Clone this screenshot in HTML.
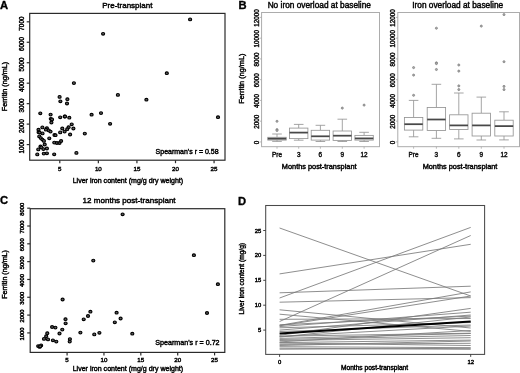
<!DOCTYPE html>
<html><head><meta charset="utf-8"><style>
html,body{margin:0;padding:0;background:#fff;}
svg{display:block;font-family:"Liberation Sans", sans-serif;filter:blur(0.3px);}
</style></head><body>
<svg width="520" height="373" viewBox="0 0 520 373">
<rect width="520" height="373" fill="#fff"/>
<text x="0.00" y="8.70" font-size="11.2" text-anchor="start" font-weight="bold" fill="#000" stroke="#000" stroke-width="0.35">A</text>
<text x="127.35" y="7.80" font-size="8.0" text-anchor="middle" font-weight="normal" fill="#000" stroke="#000" stroke-width="0.42">Pre-transplant</text>
<rect x="29.70" y="13.40" width="195.30" height="146.80" stroke="#2b2b2b" stroke-width="1.2" fill="none"/>
<line x1="26.70" y1="144.57" x2="29.70" y2="144.57" stroke="#2b2b2b" stroke-width="1.2"/>
<text x="24.30" y="146.37" font-size="6.3" text-anchor="middle" font-weight="normal" fill="#000" stroke="#000" stroke-width="0.42" transform="rotate(-90 24.30 146.37)">1000</text>
<line x1="26.70" y1="124.11" x2="29.70" y2="124.11" stroke="#2b2b2b" stroke-width="1.2"/>
<text x="24.30" y="125.91" font-size="6.3" text-anchor="middle" font-weight="normal" fill="#000" stroke="#000" stroke-width="0.42" transform="rotate(-90 24.30 125.91)">2000</text>
<line x1="26.70" y1="103.65" x2="29.70" y2="103.65" stroke="#2b2b2b" stroke-width="1.2"/>
<text x="24.30" y="105.45" font-size="6.3" text-anchor="middle" font-weight="normal" fill="#000" stroke="#000" stroke-width="0.42" transform="rotate(-90 24.30 105.45)">3000</text>
<line x1="26.70" y1="83.19" x2="29.70" y2="83.19" stroke="#2b2b2b" stroke-width="1.2"/>
<text x="24.30" y="84.99" font-size="6.3" text-anchor="middle" font-weight="normal" fill="#000" stroke="#000" stroke-width="0.42" transform="rotate(-90 24.30 84.99)">4000</text>
<line x1="26.70" y1="62.73" x2="29.70" y2="62.73" stroke="#2b2b2b" stroke-width="1.2"/>
<text x="24.30" y="64.53" font-size="6.3" text-anchor="middle" font-weight="normal" fill="#000" stroke="#000" stroke-width="0.42" transform="rotate(-90 24.30 64.53)">5000</text>
<line x1="26.70" y1="42.27" x2="29.70" y2="42.27" stroke="#2b2b2b" stroke-width="1.2"/>
<text x="24.30" y="44.07" font-size="6.3" text-anchor="middle" font-weight="normal" fill="#000" stroke="#000" stroke-width="0.42" transform="rotate(-90 24.30 44.07)">6000</text>
<line x1="26.70" y1="21.81" x2="29.70" y2="21.81" stroke="#2b2b2b" stroke-width="1.2"/>
<text x="24.30" y="23.61" font-size="6.3" text-anchor="middle" font-weight="normal" fill="#000" stroke="#000" stroke-width="0.42" transform="rotate(-90 24.30 23.61)">7000</text>
<line x1="59.78" y1="160.20" x2="59.78" y2="163.20" stroke="#2b2b2b" stroke-width="1.2"/>
<text x="59.78" y="171.20" font-size="6.2" text-anchor="middle" font-weight="normal" fill="#000" stroke="#000" stroke-width="0.42">5</text>
<line x1="98.35" y1="160.20" x2="98.35" y2="163.20" stroke="#2b2b2b" stroke-width="1.2"/>
<text x="98.35" y="171.20" font-size="6.2" text-anchor="middle" font-weight="normal" fill="#000" stroke="#000" stroke-width="0.42">10</text>
<line x1="136.92" y1="160.20" x2="136.92" y2="163.20" stroke="#2b2b2b" stroke-width="1.2"/>
<text x="136.92" y="171.20" font-size="6.2" text-anchor="middle" font-weight="normal" fill="#000" stroke="#000" stroke-width="0.42">15</text>
<line x1="175.50" y1="160.20" x2="175.50" y2="163.20" stroke="#2b2b2b" stroke-width="1.2"/>
<text x="175.50" y="171.20" font-size="6.2" text-anchor="middle" font-weight="normal" fill="#000" stroke="#000" stroke-width="0.42">20</text>
<line x1="214.07" y1="160.20" x2="214.07" y2="163.20" stroke="#2b2b2b" stroke-width="1.2"/>
<text x="214.07" y="171.20" font-size="6.2" text-anchor="middle" font-weight="normal" fill="#000" stroke="#000" stroke-width="0.42">25</text>
<text x="127.90" y="183.00" font-size="7.05" text-anchor="middle" font-weight="normal" fill="#000" stroke="#000" stroke-width="0.42">Liver iron content (mg/g dry weight)</text>
<text x="7.30" y="86.50" font-size="7.25" text-anchor="middle" font-weight="normal" fill="#000" stroke="#000" stroke-width="0.42" transform="rotate(-90 7.30 86.50)">Ferritin (ng/mL)</text>
<text x="218.60" y="154.20" font-size="7.0" text-anchor="end" font-weight="normal" fill="#000" stroke="#000" stroke-width="0.42">Spearman's r = 0.58</text>
<ellipse cx="59.60" cy="96.90" rx="1.55" ry="1.35" stroke="#000" stroke-width="1.1" fill="#606060"/>
<ellipse cx="60.40" cy="101.30" rx="1.55" ry="1.35" stroke="#000" stroke-width="1.1" fill="#606060"/>
<ellipse cx="67.40" cy="99.20" rx="1.55" ry="1.35" stroke="#000" stroke-width="1.1" fill="#606060"/>
<ellipse cx="67.00" cy="103.50" rx="1.55" ry="1.35" stroke="#000" stroke-width="1.1" fill="#606060"/>
<ellipse cx="40.30" cy="113.30" rx="1.55" ry="1.35" stroke="#000" stroke-width="1.1" fill="#606060"/>
<ellipse cx="50.60" cy="114.60" rx="1.55" ry="1.35" stroke="#000" stroke-width="1.1" fill="#606060"/>
<ellipse cx="50.80" cy="118.80" rx="1.55" ry="1.35" stroke="#000" stroke-width="1.1" fill="#606060"/>
<ellipse cx="52.00" cy="119.40" rx="1.55" ry="1.35" stroke="#000" stroke-width="1.1" fill="#606060"/>
<ellipse cx="51.40" cy="122.50" rx="1.55" ry="1.35" stroke="#000" stroke-width="1.1" fill="#606060"/>
<ellipse cx="60.20" cy="117.30" rx="1.55" ry="1.35" stroke="#000" stroke-width="1.1" fill="#606060"/>
<ellipse cx="64.70" cy="116.50" rx="1.55" ry="1.35" stroke="#000" stroke-width="1.1" fill="#606060"/>
<ellipse cx="69.30" cy="117.70" rx="1.55" ry="1.35" stroke="#000" stroke-width="1.1" fill="#606060"/>
<ellipse cx="71.70" cy="124.30" rx="1.55" ry="1.35" stroke="#000" stroke-width="1.1" fill="#606060"/>
<ellipse cx="42.40" cy="127.40" rx="1.55" ry="1.35" stroke="#000" stroke-width="1.1" fill="#606060"/>
<ellipse cx="38.50" cy="129.70" rx="1.55" ry="1.35" stroke="#000" stroke-width="1.1" fill="#606060"/>
<ellipse cx="38.60" cy="132.20" rx="1.55" ry="1.35" stroke="#000" stroke-width="1.1" fill="#606060"/>
<ellipse cx="46.90" cy="128.20" rx="1.55" ry="1.35" stroke="#000" stroke-width="1.1" fill="#606060"/>
<ellipse cx="45.90" cy="129.70" rx="1.55" ry="1.35" stroke="#000" stroke-width="1.1" fill="#606060"/>
<ellipse cx="48.80" cy="130.40" rx="1.55" ry="1.35" stroke="#000" stroke-width="1.1" fill="#606060"/>
<ellipse cx="50.50" cy="131.60" rx="1.55" ry="1.35" stroke="#000" stroke-width="1.1" fill="#606060"/>
<ellipse cx="42.50" cy="133.40" rx="1.55" ry="1.35" stroke="#000" stroke-width="1.1" fill="#606060"/>
<ellipse cx="39.50" cy="132.50" rx="1.55" ry="1.35" stroke="#000" stroke-width="1.1" fill="#606060"/>
<ellipse cx="62.30" cy="128.50" rx="1.55" ry="1.35" stroke="#000" stroke-width="1.1" fill="#606060"/>
<ellipse cx="68.60" cy="127.20" rx="1.55" ry="1.35" stroke="#000" stroke-width="1.1" fill="#606060"/>
<ellipse cx="67.20" cy="129.20" rx="1.55" ry="1.35" stroke="#000" stroke-width="1.1" fill="#606060"/>
<ellipse cx="73.40" cy="128.50" rx="1.55" ry="1.35" stroke="#000" stroke-width="1.1" fill="#606060"/>
<ellipse cx="64.60" cy="131.60" rx="1.55" ry="1.35" stroke="#000" stroke-width="1.1" fill="#606060"/>
<ellipse cx="60.20" cy="132.40" rx="1.55" ry="1.35" stroke="#000" stroke-width="1.1" fill="#606060"/>
<ellipse cx="54.50" cy="135.00" rx="1.55" ry="1.35" stroke="#000" stroke-width="1.1" fill="#606060"/>
<ellipse cx="55.50" cy="135.20" rx="1.55" ry="1.35" stroke="#000" stroke-width="1.1" fill="#606060"/>
<ellipse cx="70.10" cy="134.50" rx="1.55" ry="1.35" stroke="#000" stroke-width="1.1" fill="#606060"/>
<ellipse cx="49.30" cy="138.30" rx="1.55" ry="1.35" stroke="#000" stroke-width="1.1" fill="#606060"/>
<ellipse cx="39.30" cy="136.40" rx="1.55" ry="1.35" stroke="#000" stroke-width="1.1" fill="#606060"/>
<ellipse cx="40.80" cy="138.10" rx="1.55" ry="1.35" stroke="#000" stroke-width="1.1" fill="#606060"/>
<ellipse cx="42.40" cy="139.60" rx="1.55" ry="1.35" stroke="#000" stroke-width="1.1" fill="#606060"/>
<ellipse cx="43.90" cy="140.90" rx="1.55" ry="1.35" stroke="#000" stroke-width="1.1" fill="#606060"/>
<ellipse cx="54.30" cy="142.60" rx="1.55" ry="1.35" stroke="#000" stroke-width="1.1" fill="#606060"/>
<ellipse cx="56.90" cy="143.00" rx="1.55" ry="1.35" stroke="#000" stroke-width="1.1" fill="#606060"/>
<ellipse cx="59.50" cy="143.00" rx="1.55" ry="1.35" stroke="#000" stroke-width="1.1" fill="#606060"/>
<ellipse cx="61.10" cy="141.00" rx="1.55" ry="1.35" stroke="#000" stroke-width="1.1" fill="#606060"/>
<ellipse cx="44.70" cy="144.50" rx="1.55" ry="1.35" stroke="#000" stroke-width="1.1" fill="#606060"/>
<ellipse cx="40.50" cy="146.50" rx="1.55" ry="1.35" stroke="#000" stroke-width="1.1" fill="#606060"/>
<ellipse cx="41.40" cy="147.40" rx="1.55" ry="1.35" stroke="#000" stroke-width="1.1" fill="#606060"/>
<ellipse cx="38.30" cy="149.40" rx="1.55" ry="1.35" stroke="#000" stroke-width="1.1" fill="#606060"/>
<ellipse cx="43.40" cy="149.10" rx="1.55" ry="1.35" stroke="#000" stroke-width="1.1" fill="#606060"/>
<ellipse cx="46.90" cy="148.50" rx="1.55" ry="1.35" stroke="#000" stroke-width="1.1" fill="#606060"/>
<ellipse cx="37.30" cy="154.40" rx="1.55" ry="1.35" stroke="#000" stroke-width="1.1" fill="#606060"/>
<ellipse cx="43.80" cy="153.60" rx="1.55" ry="1.35" stroke="#000" stroke-width="1.1" fill="#606060"/>
<ellipse cx="46.90" cy="153.30" rx="1.55" ry="1.35" stroke="#000" stroke-width="1.1" fill="#606060"/>
<ellipse cx="54.20" cy="154.30" rx="1.55" ry="1.35" stroke="#000" stroke-width="1.1" fill="#606060"/>
<ellipse cx="76.40" cy="152.90" rx="1.55" ry="1.35" stroke="#000" stroke-width="1.1" fill="#606060"/>
<ellipse cx="73.90" cy="83.10" rx="1.55" ry="1.35" stroke="#000" stroke-width="1.1" fill="#606060"/>
<ellipse cx="117.90" cy="94.90" rx="1.55" ry="1.35" stroke="#000" stroke-width="1.1" fill="#606060"/>
<ellipse cx="91.60" cy="114.70" rx="1.55" ry="1.35" stroke="#000" stroke-width="1.1" fill="#606060"/>
<ellipse cx="101.00" cy="113.10" rx="1.55" ry="1.35" stroke="#000" stroke-width="1.1" fill="#606060"/>
<ellipse cx="65.00" cy="116.50" rx="1.55" ry="1.35" stroke="#000" stroke-width="1.1" fill="#606060"/>
<ellipse cx="110.10" cy="123.80" rx="1.55" ry="1.35" stroke="#000" stroke-width="1.1" fill="#606060"/>
<ellipse cx="84.80" cy="133.60" rx="1.55" ry="1.35" stroke="#000" stroke-width="1.1" fill="#606060"/>
<ellipse cx="166.80" cy="73.20" rx="1.55" ry="1.35" stroke="#000" stroke-width="1.1" fill="#606060"/>
<ellipse cx="146.40" cy="99.70" rx="1.55" ry="1.35" stroke="#000" stroke-width="1.1" fill="#606060"/>
<ellipse cx="218.00" cy="117.20" rx="1.55" ry="1.35" stroke="#000" stroke-width="1.1" fill="#606060"/>
<ellipse cx="190.10" cy="19.40" rx="1.55" ry="1.35" stroke="#000" stroke-width="1.1" fill="#606060"/>
<ellipse cx="103.10" cy="33.80" rx="1.55" ry="1.35" stroke="#000" stroke-width="1.1" fill="#606060"/>
<text x="0.00" y="204.20" font-size="11.2" text-anchor="start" font-weight="bold" fill="#000" stroke="#000" stroke-width="0.35">C</text>
<text x="129.10" y="203.40" font-size="8.05" text-anchor="middle" font-weight="normal" fill="#000" stroke="#000" stroke-width="0.42">12 months post-transplant</text>
<rect x="30.20" y="208.70" width="194.60" height="143.70" stroke="#2b2b2b" stroke-width="1.2" fill="none"/>
<line x1="27.20" y1="332.91" x2="30.20" y2="332.91" stroke="#2b2b2b" stroke-width="1.2"/>
<text x="23.70" y="333.91" font-size="5.85" text-anchor="middle" font-weight="normal" fill="#000" stroke="#000" stroke-width="0.42" transform="rotate(-90 23.70 333.91)">1000</text>
<line x1="27.20" y1="315.09" x2="30.20" y2="315.09" stroke="#2b2b2b" stroke-width="1.2"/>
<text x="23.70" y="316.09" font-size="5.85" text-anchor="middle" font-weight="normal" fill="#000" stroke="#000" stroke-width="0.42" transform="rotate(-90 23.70 316.09)">2000</text>
<line x1="27.20" y1="297.27" x2="30.20" y2="297.27" stroke="#2b2b2b" stroke-width="1.2"/>
<text x="23.70" y="298.27" font-size="5.85" text-anchor="middle" font-weight="normal" fill="#000" stroke="#000" stroke-width="0.42" transform="rotate(-90 23.70 298.27)">3000</text>
<line x1="27.20" y1="279.46" x2="30.20" y2="279.46" stroke="#2b2b2b" stroke-width="1.2"/>
<text x="23.70" y="280.46" font-size="5.85" text-anchor="middle" font-weight="normal" fill="#000" stroke="#000" stroke-width="0.42" transform="rotate(-90 23.70 280.46)">4000</text>
<line x1="27.20" y1="261.64" x2="30.20" y2="261.64" stroke="#2b2b2b" stroke-width="1.2"/>
<text x="23.70" y="262.64" font-size="5.85" text-anchor="middle" font-weight="normal" fill="#000" stroke="#000" stroke-width="0.42" transform="rotate(-90 23.70 262.64)">5000</text>
<line x1="27.20" y1="243.82" x2="30.20" y2="243.82" stroke="#2b2b2b" stroke-width="1.2"/>
<text x="23.70" y="244.82" font-size="5.85" text-anchor="middle" font-weight="normal" fill="#000" stroke="#000" stroke-width="0.42" transform="rotate(-90 23.70 244.82)">6000</text>
<line x1="27.20" y1="226.01" x2="30.20" y2="226.01" stroke="#2b2b2b" stroke-width="1.2"/>
<text x="23.70" y="227.01" font-size="5.85" text-anchor="middle" font-weight="normal" fill="#000" stroke="#000" stroke-width="0.42" transform="rotate(-90 23.70 227.01)">7000</text>
<line x1="27.20" y1="208.19" x2="30.20" y2="208.19" stroke="#2b2b2b" stroke-width="1.2"/>
<text x="23.70" y="209.19" font-size="5.85" text-anchor="middle" font-weight="normal" fill="#000" stroke="#000" stroke-width="0.42" transform="rotate(-90 23.70 209.19)">8000</text>
<line x1="67.08" y1="352.40" x2="67.08" y2="355.40" stroke="#2b2b2b" stroke-width="1.2"/>
<text x="67.08" y="361.80" font-size="6.2" text-anchor="middle" font-weight="normal" fill="#000" stroke="#000" stroke-width="0.42">5</text>
<line x1="103.95" y1="352.40" x2="103.95" y2="355.40" stroke="#2b2b2b" stroke-width="1.2"/>
<text x="103.95" y="361.80" font-size="6.2" text-anchor="middle" font-weight="normal" fill="#000" stroke="#000" stroke-width="0.42">10</text>
<line x1="140.82" y1="352.40" x2="140.82" y2="355.40" stroke="#2b2b2b" stroke-width="1.2"/>
<text x="140.82" y="361.80" font-size="6.2" text-anchor="middle" font-weight="normal" fill="#000" stroke="#000" stroke-width="0.42">15</text>
<line x1="177.70" y1="352.40" x2="177.70" y2="355.40" stroke="#2b2b2b" stroke-width="1.2"/>
<text x="177.70" y="361.80" font-size="6.2" text-anchor="middle" font-weight="normal" fill="#000" stroke="#000" stroke-width="0.42">20</text>
<line x1="214.57" y1="352.40" x2="214.57" y2="355.40" stroke="#2b2b2b" stroke-width="1.2"/>
<text x="214.57" y="361.80" font-size="6.2" text-anchor="middle" font-weight="normal" fill="#000" stroke="#000" stroke-width="0.42">25</text>
<text x="127.90" y="371.30" font-size="7.05" text-anchor="middle" font-weight="normal" fill="#000" stroke="#000" stroke-width="0.42">Liver iron content (mg/g dry weight)</text>
<text x="7.30" y="274.45" font-size="7.15" text-anchor="middle" font-weight="normal" fill="#000" stroke="#000" stroke-width="0.42" transform="rotate(-90 7.30 274.45)">Ferritin (ng/mL)</text>
<text x="219.60" y="345.40" font-size="7.15" text-anchor="end" font-weight="normal" fill="#000" stroke="#000" stroke-width="0.42">Spearman's r = 0.72</text>
<ellipse cx="62.60" cy="299.50" rx="1.55" ry="1.35" stroke="#000" stroke-width="1.1" fill="#606060"/>
<ellipse cx="65.50" cy="319.20" rx="1.55" ry="1.35" stroke="#000" stroke-width="1.1" fill="#606060"/>
<ellipse cx="65.60" cy="323.30" rx="1.55" ry="1.35" stroke="#000" stroke-width="1.1" fill="#606060"/>
<ellipse cx="52.10" cy="327.00" rx="1.55" ry="1.35" stroke="#000" stroke-width="1.1" fill="#606060"/>
<ellipse cx="55.40" cy="327.60" rx="1.55" ry="1.35" stroke="#000" stroke-width="1.1" fill="#606060"/>
<ellipse cx="62.30" cy="329.60" rx="1.55" ry="1.35" stroke="#000" stroke-width="1.1" fill="#606060"/>
<ellipse cx="59.50" cy="333.50" rx="1.55" ry="1.35" stroke="#000" stroke-width="1.1" fill="#606060"/>
<ellipse cx="47.30" cy="333.20" rx="1.55" ry="1.35" stroke="#000" stroke-width="1.1" fill="#606060"/>
<ellipse cx="46.20" cy="336.20" rx="1.55" ry="1.35" stroke="#000" stroke-width="1.1" fill="#606060"/>
<ellipse cx="44.00" cy="338.90" rx="1.55" ry="1.35" stroke="#000" stroke-width="1.1" fill="#606060"/>
<ellipse cx="48.00" cy="339.40" rx="1.55" ry="1.35" stroke="#000" stroke-width="1.1" fill="#606060"/>
<ellipse cx="52.90" cy="340.30" rx="1.55" ry="1.35" stroke="#000" stroke-width="1.1" fill="#606060"/>
<ellipse cx="56.30" cy="341.60" rx="1.55" ry="1.35" stroke="#000" stroke-width="1.1" fill="#606060"/>
<ellipse cx="69.90" cy="339.10" rx="1.55" ry="1.35" stroke="#000" stroke-width="1.1" fill="#606060"/>
<ellipse cx="69.70" cy="341.60" rx="1.55" ry="1.35" stroke="#000" stroke-width="1.1" fill="#606060"/>
<ellipse cx="80.40" cy="332.60" rx="1.55" ry="1.35" stroke="#000" stroke-width="1.1" fill="#606060"/>
<ellipse cx="83.70" cy="319.30" rx="1.55" ry="1.35" stroke="#000" stroke-width="1.1" fill="#606060"/>
<ellipse cx="88.00" cy="316.00" rx="1.55" ry="1.35" stroke="#000" stroke-width="1.1" fill="#606060"/>
<ellipse cx="90.40" cy="311.70" rx="1.55" ry="1.35" stroke="#000" stroke-width="1.1" fill="#606060"/>
<ellipse cx="94.30" cy="334.40" rx="1.55" ry="1.35" stroke="#000" stroke-width="1.1" fill="#606060"/>
<ellipse cx="99.40" cy="332.80" rx="1.55" ry="1.35" stroke="#000" stroke-width="1.1" fill="#606060"/>
<ellipse cx="114.80" cy="322.30" rx="1.55" ry="1.35" stroke="#000" stroke-width="1.1" fill="#606060"/>
<ellipse cx="116.60" cy="312.70" rx="1.55" ry="1.35" stroke="#000" stroke-width="1.1" fill="#606060"/>
<ellipse cx="120.60" cy="318.50" rx="1.55" ry="1.35" stroke="#000" stroke-width="1.1" fill="#606060"/>
<ellipse cx="38.20" cy="346.10" rx="1.55" ry="1.35" stroke="#000" stroke-width="1.1" fill="#606060"/>
<ellipse cx="39.60" cy="346.90" rx="1.55" ry="1.35" stroke="#000" stroke-width="1.1" fill="#606060"/>
<ellipse cx="41.10" cy="345.40" rx="1.55" ry="1.35" stroke="#000" stroke-width="1.1" fill="#606060"/>
<ellipse cx="40.20" cy="346.30" rx="1.55" ry="1.35" stroke="#000" stroke-width="1.1" fill="#606060"/>
<ellipse cx="122.60" cy="214.30" rx="1.55" ry="1.35" stroke="#000" stroke-width="1.1" fill="#606060"/>
<ellipse cx="93.30" cy="260.60" rx="1.55" ry="1.35" stroke="#000" stroke-width="1.1" fill="#606060"/>
<ellipse cx="193.90" cy="255.20" rx="1.55" ry="1.35" stroke="#000" stroke-width="1.1" fill="#606060"/>
<ellipse cx="217.90" cy="284.20" rx="1.55" ry="1.35" stroke="#000" stroke-width="1.1" fill="#606060"/>
<ellipse cx="207.00" cy="313.00" rx="1.55" ry="1.35" stroke="#000" stroke-width="1.1" fill="#606060"/>
<ellipse cx="132.30" cy="333.70" rx="1.55" ry="1.35" stroke="#000" stroke-width="1.1" fill="#606060"/>
<text x="238.50" y="8.90" font-size="11.2" text-anchor="start" font-weight="bold" fill="#000" stroke="#000" stroke-width="0.35">B</text>
<text x="319.30" y="8.00" font-size="8.3" text-anchor="middle" font-weight="normal" fill="#000" stroke="#000" stroke-width="0.42">No iron overload at baseline</text>
<rect x="261.60" y="12.50" width="117.90" height="134.20" stroke="#a8a8a8" stroke-width="0.95" fill="none"/>
<line x1="259.80" y1="141.95" x2="261.60" y2="141.95" stroke="#a8a8a8" stroke-width="0.8"/>
<text x="259.00" y="142.55" font-size="6.3" text-anchor="middle" font-weight="normal" fill="#111" stroke="#111" stroke-width="0.42" transform="rotate(-90 259.00 142.55)">0</text>
<line x1="259.80" y1="121.19" x2="261.60" y2="121.19" stroke="#a8a8a8" stroke-width="0.8"/>
<text x="259.00" y="121.79" font-size="6.3" text-anchor="middle" font-weight="normal" fill="#111" stroke="#111" stroke-width="0.42" transform="rotate(-90 259.00 121.79)">2000</text>
<line x1="259.80" y1="100.43" x2="261.60" y2="100.43" stroke="#a8a8a8" stroke-width="0.8"/>
<text x="259.00" y="101.03" font-size="6.3" text-anchor="middle" font-weight="normal" fill="#111" stroke="#111" stroke-width="0.42" transform="rotate(-90 259.00 101.03)">4000</text>
<line x1="259.80" y1="79.67" x2="261.60" y2="79.67" stroke="#a8a8a8" stroke-width="0.8"/>
<text x="259.00" y="80.27" font-size="6.3" text-anchor="middle" font-weight="normal" fill="#111" stroke="#111" stroke-width="0.42" transform="rotate(-90 259.00 80.27)">6000</text>
<line x1="259.80" y1="58.91" x2="261.60" y2="58.91" stroke="#a8a8a8" stroke-width="0.8"/>
<text x="259.00" y="59.51" font-size="6.3" text-anchor="middle" font-weight="normal" fill="#111" stroke="#111" stroke-width="0.42" transform="rotate(-90 259.00 59.51)">8000</text>
<line x1="259.80" y1="38.15" x2="261.60" y2="38.15" stroke="#a8a8a8" stroke-width="0.8"/>
<text x="259.00" y="38.75" font-size="6.3" text-anchor="middle" font-weight="normal" fill="#111" stroke="#111" stroke-width="0.42" transform="rotate(-90 259.00 38.75)">10000</text>
<line x1="259.80" y1="17.39" x2="261.60" y2="17.39" stroke="#a8a8a8" stroke-width="0.8"/>
<text x="259.00" y="17.99" font-size="6.3" text-anchor="middle" font-weight="normal" fill="#111" stroke="#111" stroke-width="0.42" transform="rotate(-90 259.00 17.99)">12000</text>
<line x1="277.00" y1="146.70" x2="277.00" y2="148.70" stroke="#a8a8a8" stroke-width="0.8"/>
<text x="277.00" y="156.60" font-size="6.4" text-anchor="middle" font-weight="normal" fill="#111" stroke="#111" stroke-width="0.42">Pre</text>
<line x1="298.70" y1="146.70" x2="298.70" y2="148.70" stroke="#a8a8a8" stroke-width="0.8"/>
<text x="298.70" y="156.60" font-size="6.4" text-anchor="middle" font-weight="normal" fill="#111" stroke="#111" stroke-width="0.42">3</text>
<line x1="320.40" y1="146.70" x2="320.40" y2="148.70" stroke="#a8a8a8" stroke-width="0.8"/>
<text x="320.40" y="156.60" font-size="6.4" text-anchor="middle" font-weight="normal" fill="#111" stroke="#111" stroke-width="0.42">6</text>
<line x1="342.30" y1="146.70" x2="342.30" y2="148.70" stroke="#a8a8a8" stroke-width="0.8"/>
<text x="342.30" y="156.60" font-size="6.4" text-anchor="middle" font-weight="normal" fill="#111" stroke="#111" stroke-width="0.42">9</text>
<line x1="364.10" y1="146.70" x2="364.10" y2="148.70" stroke="#a8a8a8" stroke-width="0.8"/>
<text x="364.10" y="156.60" font-size="6.4" text-anchor="middle" font-weight="normal" fill="#111" stroke="#111" stroke-width="0.42">12</text>
<text x="319.20" y="169.20" font-size="7.35" text-anchor="middle" font-weight="normal" fill="#000" stroke="#000" stroke-width="0.42">Months post-transplant</text>
<text x="244.40" y="78.60" font-size="7.35" text-anchor="middle" font-weight="normal" fill="#000" stroke="#000" stroke-width="0.42" transform="rotate(-90 244.40 78.60)">Ferritin (ng/mL)</text>
<line x1="277.00" y1="134.00" x2="277.00" y2="137.30" stroke="#959595" stroke-width="0.85"/>
<line x1="277.00" y1="140.10" x2="277.00" y2="141.40" stroke="#959595" stroke-width="0.85"/>
<line x1="272.20" y1="134.00" x2="281.80" y2="134.00" stroke="#959595" stroke-width="0.85"/>
<line x1="272.20" y1="141.40" x2="281.80" y2="141.40" stroke="#959595" stroke-width="0.85"/>
<rect x="267.80" y="137.30" width="18.40" height="2.80" stroke="#959595" stroke-width="0.85" fill="#fff"/>
<line x1="267.80" y1="138.70" x2="286.20" y2="138.70" stroke="#484848" stroke-width="1.75"/>
<circle cx="277.00" cy="121.30" r="1.05" stroke="#7d7d7d" stroke-width="0.75" fill="#aaaaaa"/>
<circle cx="277.00" cy="129.60" r="1.05" stroke="#7d7d7d" stroke-width="0.75" fill="#aaaaaa"/>
<circle cx="277.00" cy="130.50" r="1.05" stroke="#7d7d7d" stroke-width="0.75" fill="#aaaaaa"/>
<line x1="298.70" y1="124.40" x2="298.70" y2="128.10" stroke="#959595" stroke-width="0.85"/>
<line x1="298.70" y1="138.60" x2="298.70" y2="140.20" stroke="#959595" stroke-width="0.85"/>
<line x1="293.90" y1="124.40" x2="303.50" y2="124.40" stroke="#959595" stroke-width="0.85"/>
<line x1="293.90" y1="140.20" x2="303.50" y2="140.20" stroke="#959595" stroke-width="0.85"/>
<rect x="289.50" y="128.10" width="18.40" height="10.50" stroke="#959595" stroke-width="0.85" fill="#fff"/>
<line x1="289.50" y1="132.60" x2="307.90" y2="132.60" stroke="#484848" stroke-width="1.75"/>
<line x1="320.40" y1="125.30" x2="320.40" y2="130.30" stroke="#959595" stroke-width="0.85"/>
<line x1="320.40" y1="140.10" x2="320.40" y2="141.50" stroke="#959595" stroke-width="0.85"/>
<line x1="315.60" y1="125.30" x2="325.20" y2="125.30" stroke="#959595" stroke-width="0.85"/>
<line x1="315.60" y1="141.50" x2="325.20" y2="141.50" stroke="#959595" stroke-width="0.85"/>
<rect x="311.20" y="130.30" width="18.40" height="9.80" stroke="#959595" stroke-width="0.85" fill="#fff"/>
<line x1="311.20" y1="136.30" x2="329.60" y2="136.30" stroke="#484848" stroke-width="1.75"/>
<line x1="342.30" y1="119.20" x2="342.30" y2="131.00" stroke="#959595" stroke-width="0.85"/>
<line x1="342.30" y1="140.40" x2="342.30" y2="141.50" stroke="#959595" stroke-width="0.85"/>
<line x1="337.50" y1="119.20" x2="347.10" y2="119.20" stroke="#959595" stroke-width="0.85"/>
<line x1="337.50" y1="141.50" x2="347.10" y2="141.50" stroke="#959595" stroke-width="0.85"/>
<rect x="333.10" y="131.00" width="18.40" height="9.40" stroke="#959595" stroke-width="0.85" fill="#fff"/>
<line x1="333.10" y1="135.70" x2="351.50" y2="135.70" stroke="#484848" stroke-width="1.75"/>
<circle cx="342.30" cy="108.10" r="1.05" stroke="#7d7d7d" stroke-width="0.75" fill="#aaaaaa"/>
<line x1="364.10" y1="132.30" x2="364.10" y2="135.40" stroke="#959595" stroke-width="0.85"/>
<line x1="364.10" y1="140.10" x2="364.10" y2="141.50" stroke="#959595" stroke-width="0.85"/>
<line x1="359.30" y1="132.30" x2="368.90" y2="132.30" stroke="#959595" stroke-width="0.85"/>
<line x1="359.30" y1="141.50" x2="368.90" y2="141.50" stroke="#959595" stroke-width="0.85"/>
<rect x="354.90" y="135.40" width="18.40" height="4.70" stroke="#959595" stroke-width="0.85" fill="#fff"/>
<line x1="354.90" y1="138.40" x2="373.30" y2="138.40" stroke="#484848" stroke-width="1.75"/>
<circle cx="364.10" cy="105.10" r="1.05" stroke="#7d7d7d" stroke-width="0.75" fill="#aaaaaa"/>
<text x="457.70" y="8.00" font-size="8.3" text-anchor="middle" font-weight="normal" fill="#000" stroke="#000" stroke-width="0.42">Iron overload at baseline</text>
<rect x="397.80" y="12.50" width="121.70" height="134.20" stroke="#a8a8a8" stroke-width="0.95" fill="none"/>
<line x1="396.00" y1="141.95" x2="397.80" y2="141.95" stroke="#a8a8a8" stroke-width="0.8"/>
<text x="395.00" y="142.55" font-size="6.3" text-anchor="middle" font-weight="normal" fill="#111" stroke="#111" stroke-width="0.42" transform="rotate(-90 395.00 142.55)">0</text>
<line x1="396.00" y1="121.19" x2="397.80" y2="121.19" stroke="#a8a8a8" stroke-width="0.8"/>
<text x="395.00" y="121.79" font-size="6.3" text-anchor="middle" font-weight="normal" fill="#111" stroke="#111" stroke-width="0.42" transform="rotate(-90 395.00 121.79)">2000</text>
<line x1="396.00" y1="100.43" x2="397.80" y2="100.43" stroke="#a8a8a8" stroke-width="0.8"/>
<text x="395.00" y="101.03" font-size="6.3" text-anchor="middle" font-weight="normal" fill="#111" stroke="#111" stroke-width="0.42" transform="rotate(-90 395.00 101.03)">4000</text>
<line x1="396.00" y1="79.67" x2="397.80" y2="79.67" stroke="#a8a8a8" stroke-width="0.8"/>
<text x="395.00" y="80.27" font-size="6.3" text-anchor="middle" font-weight="normal" fill="#111" stroke="#111" stroke-width="0.42" transform="rotate(-90 395.00 80.27)">6000</text>
<line x1="396.00" y1="58.91" x2="397.80" y2="58.91" stroke="#a8a8a8" stroke-width="0.8"/>
<text x="395.00" y="59.51" font-size="6.3" text-anchor="middle" font-weight="normal" fill="#111" stroke="#111" stroke-width="0.42" transform="rotate(-90 395.00 59.51)">8000</text>
<line x1="396.00" y1="38.15" x2="397.80" y2="38.15" stroke="#a8a8a8" stroke-width="0.8"/>
<text x="395.00" y="38.75" font-size="6.3" text-anchor="middle" font-weight="normal" fill="#111" stroke="#111" stroke-width="0.42" transform="rotate(-90 395.00 38.75)">10000</text>
<line x1="396.00" y1="17.39" x2="397.80" y2="17.39" stroke="#a8a8a8" stroke-width="0.8"/>
<text x="395.00" y="17.99" font-size="6.3" text-anchor="middle" font-weight="normal" fill="#111" stroke="#111" stroke-width="0.42" transform="rotate(-90 395.00 17.99)">12000</text>
<line x1="413.60" y1="146.70" x2="413.60" y2="148.70" stroke="#a8a8a8" stroke-width="0.8"/>
<text x="413.60" y="156.60" font-size="6.4" text-anchor="middle" font-weight="normal" fill="#111" stroke="#111" stroke-width="0.42">Pre</text>
<line x1="436.40" y1="146.70" x2="436.40" y2="148.70" stroke="#a8a8a8" stroke-width="0.8"/>
<text x="436.40" y="156.60" font-size="6.4" text-anchor="middle" font-weight="normal" fill="#111" stroke="#111" stroke-width="0.42">3</text>
<line x1="458.80" y1="146.70" x2="458.80" y2="148.70" stroke="#a8a8a8" stroke-width="0.8"/>
<text x="458.80" y="156.60" font-size="6.4" text-anchor="middle" font-weight="normal" fill="#111" stroke="#111" stroke-width="0.42">6</text>
<line x1="481.30" y1="146.70" x2="481.30" y2="148.70" stroke="#a8a8a8" stroke-width="0.8"/>
<text x="481.30" y="156.60" font-size="6.4" text-anchor="middle" font-weight="normal" fill="#111" stroke="#111" stroke-width="0.42">9</text>
<line x1="504.00" y1="146.70" x2="504.00" y2="148.70" stroke="#a8a8a8" stroke-width="0.8"/>
<text x="504.00" y="156.60" font-size="6.4" text-anchor="middle" font-weight="normal" fill="#111" stroke="#111" stroke-width="0.42">12</text>
<text x="460.00" y="169.20" font-size="7.35" text-anchor="middle" font-weight="normal" fill="#000" stroke="#000" stroke-width="0.42">Months post-transplant</text>
<line x1="413.60" y1="100.40" x2="413.60" y2="117.50" stroke="#959595" stroke-width="0.85"/>
<line x1="413.60" y1="130.10" x2="413.60" y2="136.80" stroke="#959595" stroke-width="0.85"/>
<line x1="408.80" y1="100.40" x2="418.40" y2="100.40" stroke="#959595" stroke-width="0.85"/>
<line x1="408.80" y1="136.80" x2="418.40" y2="136.80" stroke="#959595" stroke-width="0.85"/>
<rect x="404.40" y="117.50" width="18.40" height="12.60" stroke="#959595" stroke-width="0.85" fill="#fff"/>
<line x1="404.40" y1="124.20" x2="422.80" y2="124.20" stroke="#484848" stroke-width="1.75"/>
<circle cx="413.60" cy="67.60" r="1.05" stroke="#7d7d7d" stroke-width="0.75" fill="#aaaaaa"/>
<circle cx="413.60" cy="75.10" r="1.05" stroke="#7d7d7d" stroke-width="0.75" fill="#aaaaaa"/>
<circle cx="413.60" cy="95.30" r="1.05" stroke="#7d7d7d" stroke-width="0.75" fill="#aaaaaa"/>
<line x1="436.40" y1="84.30" x2="436.40" y2="107.50" stroke="#959595" stroke-width="0.85"/>
<line x1="436.40" y1="130.50" x2="436.40" y2="138.30" stroke="#959595" stroke-width="0.85"/>
<line x1="431.60" y1="84.30" x2="441.20" y2="84.30" stroke="#959595" stroke-width="0.85"/>
<line x1="431.60" y1="138.30" x2="441.20" y2="138.30" stroke="#959595" stroke-width="0.85"/>
<rect x="427.20" y="107.50" width="18.40" height="23.00" stroke="#959595" stroke-width="0.85" fill="#fff"/>
<line x1="427.20" y1="119.50" x2="445.60" y2="119.50" stroke="#484848" stroke-width="1.75"/>
<circle cx="436.40" cy="28.20" r="1.05" stroke="#7d7d7d" stroke-width="0.75" fill="#aaaaaa"/>
<circle cx="436.40" cy="62.80" r="1.05" stroke="#7d7d7d" stroke-width="0.75" fill="#aaaaaa"/>
<circle cx="436.40" cy="63.60" r="1.05" stroke="#7d7d7d" stroke-width="0.75" fill="#aaaaaa"/>
<circle cx="436.40" cy="69.50" r="1.05" stroke="#7d7d7d" stroke-width="0.75" fill="#aaaaaa"/>
<line x1="458.80" y1="93.00" x2="458.80" y2="114.80" stroke="#959595" stroke-width="0.85"/>
<line x1="458.80" y1="129.50" x2="458.80" y2="138.90" stroke="#959595" stroke-width="0.85"/>
<line x1="454.00" y1="93.00" x2="463.60" y2="93.00" stroke="#959595" stroke-width="0.85"/>
<line x1="454.00" y1="138.90" x2="463.60" y2="138.90" stroke="#959595" stroke-width="0.85"/>
<rect x="449.60" y="114.80" width="18.40" height="14.70" stroke="#959595" stroke-width="0.85" fill="#fff"/>
<line x1="449.60" y1="125.40" x2="468.00" y2="125.40" stroke="#484848" stroke-width="1.75"/>
<circle cx="458.80" cy="65.00" r="1.05" stroke="#7d7d7d" stroke-width="0.75" fill="#aaaaaa"/>
<circle cx="458.80" cy="71.10" r="1.05" stroke="#7d7d7d" stroke-width="0.75" fill="#aaaaaa"/>
<circle cx="458.80" cy="85.90" r="1.05" stroke="#7d7d7d" stroke-width="0.75" fill="#aaaaaa"/>
<circle cx="458.80" cy="89.60" r="1.05" stroke="#7d7d7d" stroke-width="0.75" fill="#aaaaaa"/>
<line x1="481.30" y1="97.10" x2="481.30" y2="113.20" stroke="#959595" stroke-width="0.85"/>
<line x1="481.30" y1="136.00" x2="481.30" y2="140.00" stroke="#959595" stroke-width="0.85"/>
<line x1="476.50" y1="97.10" x2="486.10" y2="97.10" stroke="#959595" stroke-width="0.85"/>
<line x1="476.50" y1="140.00" x2="486.10" y2="140.00" stroke="#959595" stroke-width="0.85"/>
<rect x="472.10" y="113.20" width="18.40" height="22.80" stroke="#959595" stroke-width="0.85" fill="#fff"/>
<line x1="472.10" y1="125.40" x2="490.50" y2="125.40" stroke="#484848" stroke-width="1.75"/>
<circle cx="481.30" cy="26.10" r="1.05" stroke="#7d7d7d" stroke-width="0.75" fill="#aaaaaa"/>
<line x1="504.00" y1="111.80" x2="504.00" y2="120.20" stroke="#959595" stroke-width="0.85"/>
<line x1="504.00" y1="136.00" x2="504.00" y2="139.90" stroke="#959595" stroke-width="0.85"/>
<line x1="499.20" y1="111.80" x2="508.80" y2="111.80" stroke="#959595" stroke-width="0.85"/>
<line x1="499.20" y1="139.90" x2="508.80" y2="139.90" stroke="#959595" stroke-width="0.85"/>
<rect x="494.80" y="120.20" width="18.40" height="15.80" stroke="#959595" stroke-width="0.85" fill="#fff"/>
<line x1="494.80" y1="126.10" x2="513.20" y2="126.10" stroke="#484848" stroke-width="1.75"/>
<circle cx="504.00" cy="14.60" r="1.05" stroke="#7d7d7d" stroke-width="0.75" fill="#aaaaaa"/>
<circle cx="504.00" cy="61.70" r="1.05" stroke="#7d7d7d" stroke-width="0.75" fill="#aaaaaa"/>
<circle cx="504.00" cy="86.40" r="1.05" stroke="#7d7d7d" stroke-width="0.75" fill="#aaaaaa"/>
<circle cx="504.00" cy="89.60" r="1.05" stroke="#7d7d7d" stroke-width="0.75" fill="#aaaaaa"/>
<text x="238.00" y="205.00" font-size="11.2" text-anchor="start" font-weight="bold" fill="#000" stroke="#000" stroke-width="0.35">D</text>
<rect x="265.70" y="205.50" width="218.90" height="148.90" stroke="#4a4a4a" stroke-width="1.05" fill="none"/>
<line x1="263.20" y1="330.10" x2="265.70" y2="330.10" stroke="#333" stroke-width="0.9"/>
<text x="261.20" y="332.10" font-size="5.8" text-anchor="end" font-weight="normal" fill="#000" stroke="#000" stroke-width="0.42">5</text>
<line x1="263.20" y1="305.20" x2="265.70" y2="305.20" stroke="#333" stroke-width="0.9"/>
<text x="261.20" y="307.20" font-size="5.8" text-anchor="end" font-weight="normal" fill="#000" stroke="#000" stroke-width="0.42">10</text>
<line x1="263.20" y1="280.30" x2="265.70" y2="280.30" stroke="#333" stroke-width="0.9"/>
<text x="261.20" y="282.30" font-size="5.8" text-anchor="end" font-weight="normal" fill="#000" stroke="#000" stroke-width="0.42">15</text>
<line x1="263.20" y1="255.40" x2="265.70" y2="255.40" stroke="#333" stroke-width="0.9"/>
<text x="261.20" y="257.40" font-size="5.8" text-anchor="end" font-weight="normal" fill="#000" stroke="#000" stroke-width="0.42">20</text>
<line x1="263.20" y1="230.50" x2="265.70" y2="230.50" stroke="#333" stroke-width="0.9"/>
<text x="261.20" y="232.50" font-size="5.8" text-anchor="end" font-weight="normal" fill="#000" stroke="#000" stroke-width="0.42">25</text>
<line x1="279.60" y1="354.40" x2="279.60" y2="356.90" stroke="#333" stroke-width="0.9"/>
<text x="279.60" y="364.40" font-size="5.9" text-anchor="middle" font-weight="normal" fill="#000" stroke="#000" stroke-width="0.42">0</text>
<line x1="470.70" y1="354.40" x2="470.70" y2="356.90" stroke="#333" stroke-width="0.9"/>
<text x="470.70" y="364.40" font-size="5.9" text-anchor="middle" font-weight="normal" fill="#000" stroke="#000" stroke-width="0.42">12</text>
<text x="374.60" y="370.20" font-size="6.6" text-anchor="middle" font-weight="normal" fill="#000" stroke="#000" stroke-width="0.42">Months post-transplant</text>
<text x="244.30" y="278.70" font-size="6.6" text-anchor="middle" font-weight="normal" fill="#000" stroke="#000" stroke-width="0.42" transform="rotate(-90 244.30 278.70)">Liver iron content (mg/g)</text>
<line x1="279.60" y1="228.00" x2="470.70" y2="296.00" stroke="#7a7a7a" stroke-width="0.85"/>
<line x1="279.60" y1="273.90" x2="470.70" y2="244.30" stroke="#7a7a7a" stroke-width="0.85"/>
<line x1="279.60" y1="298.00" x2="470.70" y2="227.40" stroke="#7a7a7a" stroke-width="0.85"/>
<line x1="279.60" y1="321.50" x2="470.70" y2="235.50" stroke="#7a7a7a" stroke-width="0.85"/>
<line x1="279.60" y1="292.80" x2="470.70" y2="286.20" stroke="#7a7a7a" stroke-width="0.85"/>
<line x1="279.60" y1="302.20" x2="470.70" y2="297.60" stroke="#7a7a7a" stroke-width="0.85"/>
<line x1="279.60" y1="325.40" x2="470.70" y2="291.90" stroke="#7a7a7a" stroke-width="0.85"/>
<line x1="279.60" y1="325.80" x2="470.70" y2="296.00" stroke="#7a7a7a" stroke-width="0.85"/>
<line x1="279.60" y1="309.80" x2="470.70" y2="328.00" stroke="#7a7a7a" stroke-width="0.85"/>
<line x1="279.60" y1="314.20" x2="470.70" y2="331.40" stroke="#7a7a7a" stroke-width="0.85"/>
<line x1="279.60" y1="319.30" x2="470.70" y2="318.50" stroke="#7a7a7a" stroke-width="0.85"/>
<line x1="279.60" y1="324.80" x2="470.70" y2="316.10" stroke="#7a7a7a" stroke-width="0.85"/>
<line x1="279.60" y1="326.60" x2="470.70" y2="312.20" stroke="#7a7a7a" stroke-width="0.85"/>
<line x1="279.60" y1="330.10" x2="470.70" y2="315.00" stroke="#7a7a7a" stroke-width="0.85"/>
<line x1="279.60" y1="335.30" x2="470.70" y2="308.40" stroke="#7a7a7a" stroke-width="0.85"/>
<line x1="279.60" y1="337.10" x2="470.70" y2="317.00" stroke="#7a7a7a" stroke-width="0.85"/>
<line x1="279.60" y1="338.40" x2="470.70" y2="333.50" stroke="#7a7a7a" stroke-width="0.85"/>
<line x1="279.60" y1="340.50" x2="470.70" y2="337.70" stroke="#7a7a7a" stroke-width="0.85"/>
<line x1="279.60" y1="342.60" x2="470.70" y2="340.10" stroke="#7a7a7a" stroke-width="0.85"/>
<line x1="279.60" y1="344.40" x2="470.70" y2="343.30" stroke="#7a7a7a" stroke-width="0.85"/>
<line x1="279.60" y1="346.70" x2="470.70" y2="347.70" stroke="#7a7a7a" stroke-width="0.85"/>
<line x1="279.60" y1="348.20" x2="470.70" y2="349.30" stroke="#7a7a7a" stroke-width="0.85"/>
<line x1="279.60" y1="341.90" x2="470.70" y2="330.50" stroke="#7a7a7a" stroke-width="0.85"/>
<line x1="279.60" y1="336.20" x2="470.70" y2="333.20" stroke="#7a7a7a" stroke-width="0.85"/>
<line x1="279.60" y1="339.50" x2="470.70" y2="335.50" stroke="#7a7a7a" stroke-width="0.85"/>
<line x1="279.60" y1="343.00" x2="470.70" y2="345.50" stroke="#7a7a7a" stroke-width="0.85"/>
<line x1="279.60" y1="345.50" x2="470.70" y2="341.00" stroke="#7a7a7a" stroke-width="0.85"/>
<line x1="279.60" y1="349.20" x2="470.70" y2="348.30" stroke="#7a7a7a" stroke-width="0.85"/>
<line x1="279.60" y1="336.50" x2="470.70" y2="326.00" stroke="#7a7a7a" stroke-width="0.85"/>
<line x1="279.60" y1="331.50" x2="470.70" y2="325.00" stroke="#7a7a7a" stroke-width="0.85"/>
<line x1="279.60" y1="327.80" x2="470.70" y2="322.50" stroke="#7a7a7a" stroke-width="0.85"/>
<line x1="279.60" y1="333.50" x2="470.70" y2="321.60" stroke="#000" stroke-width="2.0"/>
</svg>
</body></html>
